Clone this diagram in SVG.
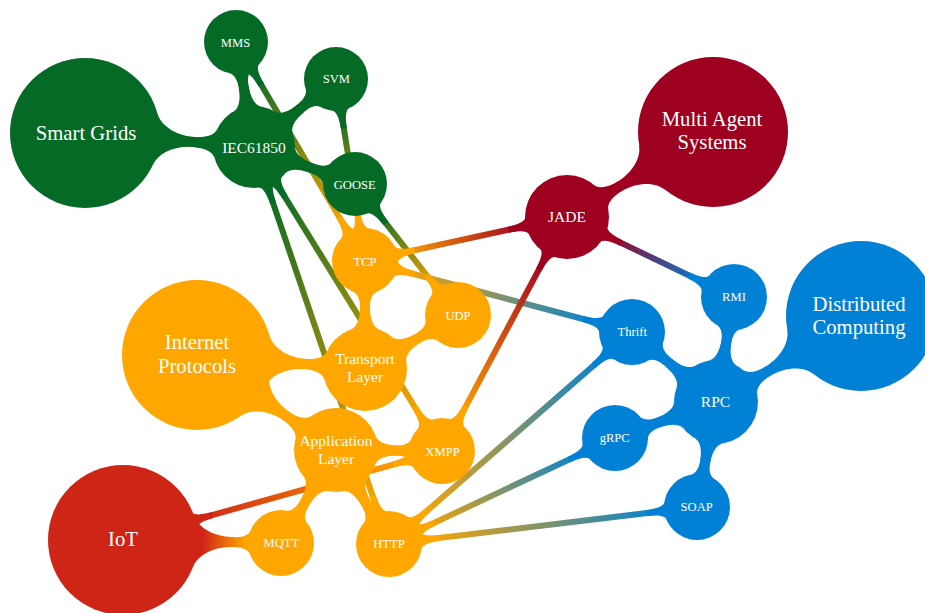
<svg xmlns="http://www.w3.org/2000/svg" xmlns:xlink="http://www.w3.org/1999/xlink" width="925" height="613" viewBox="0 0 925 613">
<style>
  text { font-family: "Liberation Serif", "Times New Roman", serif; fill: #ffffff; text-anchor: middle; }
  .big { font-size: 20.7px; }
  .mid { font-size: 15.5px; }
  .leaf { font-size: 12.6px; }
  .g { fill: #056a25; }
  .w { fill: #9e0020; }
  .b { fill: #0081d5; }
  .o { fill: #ffa600; }
  .r { fill: #cf2516; }
  .bar { fill: none; stroke-width: 10; }
  .bar.g { stroke: #056a25; }
  .bar.w { stroke: #9e0020; }
  .bar.b { stroke: #0081d5; }
  .bar.o { stroke: #ffa600; }
  .link { fill: none; stroke-width: 6; }
</style>
<defs>
  <!-- flared ends: origin sits on the circle rim, +x points away from the centre -->
  <path id="fb" d="M-4.6,-26 C-0.5,-14.7 14,-5 35,-5 L35,5 C14,5 -0.5,14.7 -4.6,26 Z"/>
  <path id="fm" d="M-2.4,-14 C-0.4,-8.3 8,-5 20,-5 L20,5 C8,5 -0.4,8.3 -2.4,14 Z"/>
  <path id="fs" d="M-2.1,-11.5 C-0.7,-7.8 5,-5 12,-5 L12,5 C5,5 -0.7,7.8 -2.1,11.5 Z"/>
  <path id="fx" d="M-1.8,-9.5 C-0.6,-5 6,-3 18,-3 L18,3 C6,3 -0.6,5 -1.8,9.5 Z"/>

  <!-- colour blends for the cross links -->
  <linearGradient id="l-mms-tcp" gradientUnits="userSpaceOnUse" x1="252.2" y1="69.6" x2="348.3" y2="232.6"><stop offset="0" stop-color="#056a25"/><stop offset="1" stop-color="#ffa600"/></linearGradient>
  <linearGradient id="l-svm-tcp" gradientUnits="userSpaceOnUse" x1="341" y1="110.6" x2="359.8" y2="228.4"><stop offset="0" stop-color="#056a25"/><stop offset="1" stop-color="#ffa600"/></linearGradient>
  <linearGradient id="l-goose-udp" gradientUnits="userSpaceOnUse" x1="374.8" y1="209.2" x2="437.6" y2="289.1"><stop offset="0" stop-color="#056a25"/><stop offset="1" stop-color="#ffa600"/></linearGradient>
  <linearGradient id="l-iec-xmpp" gradientUnits="userSpaceOnUse" x1="275" y1="181" x2="424.6" y2="422.9"><stop offset="0" stop-color="#056a25"/><stop offset="1" stop-color="#ffa600"/></linearGradient>
  <linearGradient id="l-iec-http" gradientUnits="userSpaceOnUse" x1="266.9" y1="184.9" x2="378.4" y2="512.8"><stop offset="0" stop-color="#056a25"/><stop offset="1" stop-color="#ffa600"/></linearGradient>
  <linearGradient id="l-tcp-jade" gradientUnits="userSpaceOnUse" x1="397.2" y1="254" x2="526" y2="225.9"><stop offset="0" stop-color="#ffa600"/><stop offset="1" stop-color="#9e0020"/></linearGradient>
  <linearGradient id="l-tcp-thrift" gradientUnits="userSpaceOnUse" x1="396.9" y1="269.5" x2="600.1" y2="323.5"><stop offset="0" stop-color="#ffa600"/><stop offset="1" stop-color="#0081d5"/></linearGradient>
  <linearGradient id="l-jade-xmpp" gradientUnits="userSpaceOnUse" x1="547.2" y1="254" x2="457.5" y2="421.9"><stop offset="0" stop-color="#9e0020"/><stop offset="1" stop-color="#ffa600"/></linearGradient>
  <linearGradient id="l-jade-rmi" gradientUnits="userSpaceOnUse" x1="604.9" y1="235.1" x2="704.2" y2="282.7"><stop offset="0" stop-color="#9e0020"/><stop offset="1" stop-color="#0081d5"/></linearGradient>
  <linearGradient id="l-http-thrift" gradientUnits="userSpaceOnUse" x1="413.9" y1="522.3" x2="607.1" y2="353.7"><stop offset="0" stop-color="#ffa600"/><stop offset="1" stop-color="#0081d5"/></linearGradient>
  <linearGradient id="l-http-grpc" gradientUnits="userSpaceOnUse" x1="418.9" y1="530" x2="585.1" y2="452"><stop offset="0" stop-color="#ffa600"/><stop offset="1" stop-color="#0081d5"/></linearGradient>
  <linearGradient id="l-http-soap" gradientUnits="userSpaceOnUse" x1="421.8" y1="540.1" x2="664.2" y2="510.9"><stop offset="0" stop-color="#ffa600"/><stop offset="1" stop-color="#0081d5"/></linearGradient>
  <linearGradient id="l-iot-xmpp" gradientUnits="userSpaceOnUse" x1="195.2" y1="519.8" x2="410.2" y2="459.9"><stop offset="0" stop-color="#cf2516"/><stop offset="1" stop-color="#ffa600"/></linearGradient>
  <!-- IoT to MQTT branch, in the branch's own rotated frame -->
  <linearGradient id="l-iot-mqtt" gradientUnits="userSpaceOnUse" x1="80" y1="0" x2="122" y2="0"><stop offset="0" stop-color="#cf2516"/><stop offset="1" stop-color="#ffa600"/></linearGradient>
</defs>

<g id="connectors">
  <g id="cross-links">
    <line class="link" stroke="url(#l-mms-tcp)" x1="252.2" y1="69.6" x2="348.3" y2="232.6"/>
    <line class="link" stroke="url(#l-svm-tcp)" x1="341" y1="110.6" x2="359.8" y2="228.4"/>
    <line class="link" stroke="url(#l-goose-udp)" x1="374.8" y1="209.2" x2="437.6" y2="289.1"/>
    <line class="link" stroke="url(#l-iec-xmpp)" x1="275" y1="181" x2="424.6" y2="422.9"/>
    <line class="link" stroke="url(#l-iec-http)" x1="266.9" y1="184.9" x2="378.4" y2="512.8"/>
    <line class="link" stroke="url(#l-tcp-jade)" x1="397.2" y1="254" x2="526" y2="225.9"/>
    <line class="link" stroke="url(#l-tcp-thrift)" x1="396.9" y1="269.5" x2="600.1" y2="323.5"/>
    <line class="link" stroke="url(#l-jade-xmpp)" x1="547.2" y1="254" x2="457.5" y2="421.9"/>
    <line class="link" stroke="url(#l-jade-rmi)" x1="604.9" y1="235.1" x2="704.2" y2="282.7"/>
    <line class="link" stroke="url(#l-http-thrift)" x1="413.9" y1="522.3" x2="607.1" y2="353.7"/>
    <line class="link" stroke="url(#l-http-grpc)" x1="418.9" y1="530" x2="585.1" y2="452"/>
    <line class="link" stroke="url(#l-http-soap)" x1="421.8" y1="540.1" x2="664.2" y2="510.9"/>
    <line class="link" stroke="url(#l-iot-xmpp)" x1="195.2" y1="519.8" x2="410.2" y2="459.9"/>

    <use href="#fx" class="g" transform="translate(236,42) rotate(59.5) translate(32,0)"/>
    <use href="#fx" class="o" transform="translate(365,261) rotate(239.5) translate(33,0)"/>
    <use href="#fx" class="g" transform="translate(336,79) rotate(80.95) translate(32,0)"/>
    <use href="#fx" class="o" transform="translate(365,261) rotate(260.95) translate(33,0)"/>
    <use href="#fx" class="g" transform="translate(355,184) rotate(51.82) translate(32,0)"/>
    <use href="#fx" class="o" transform="translate(458,315) rotate(231.82) translate(33,0)"/>
    <use href="#fx" class="g" transform="translate(254,147) rotate(58.27) translate(41,0)"/>
    <use href="#fx" class="o" transform="translate(442,451) rotate(238.27) translate(33,0)"/>
    <use href="#fx" class="g" transform="translate(254,147) rotate(71.22) translate(41,0)"/>
    <use href="#fx" class="o" transform="translate(389,544) rotate(251.22) translate(33,0)"/>
    <use href="#fx" class="o" transform="translate(365,261) rotate(-12.29) translate(33,0)"/>
    <use href="#fx" class="w" transform="translate(567,217) rotate(167.71) translate(42,0)"/>
    <use href="#fx" class="o" transform="translate(365,261) rotate(14.89) translate(33,0)"/>
    <use href="#fx" class="b" transform="translate(632,332) rotate(194.89) translate(33,0)"/>
    <use href="#fx" class="w" transform="translate(567,217) rotate(118.11) translate(42,0)"/>
    <use href="#fx" class="o" transform="translate(442,451) rotate(-61.89) translate(33,0)"/>
    <use href="#fx" class="w" transform="translate(567,217) rotate(25.6) translate(42,0)"/>
    <use href="#fx" class="b" transform="translate(734,297) rotate(205.6) translate(33,0)"/>
    <use href="#fx" class="o" transform="translate(389,544) rotate(-41.1) translate(33,0)"/>
    <use href="#fx" class="b" transform="translate(632,332) rotate(138.9) translate(33,0)"/>
    <use href="#fx" class="o" transform="translate(389,544) rotate(-25.13) translate(33,0)"/>
    <use href="#fx" class="b" transform="translate(615,438) rotate(154.87) translate(33,0)"/>
    <use href="#fx" class="o" transform="translate(389,544) rotate(-6.85) translate(33,0)"/>
    <use href="#fx" class="b" transform="translate(697,507) rotate(173.15) translate(33,0)"/>
    <use href="#fx" class="r" transform="translate(123,540) rotate(-15.59) translate(75,0)"/>
    <use href="#fx" class="o" transform="translate(442,451) rotate(164.41) translate(33,0)"/>
  </g>

  <g id="branches">
    <!-- Smart Grids -->
    <line class="bar g" x1="85" y1="133" x2="254" y2="147"/>
    <line class="bar g" x1="254" y1="147" x2="236" y2="42"/>
    <line class="bar g" x1="254" y1="147" x2="336" y2="79"/>
    <line class="bar g" x1="254" y1="147" x2="355" y2="184"/>
    <use href="#fb" class="g" transform="translate(85,133) rotate(4.74) translate(75,0)"/>
    <use href="#fm" class="g" transform="translate(254,147) rotate(184.74) translate(41,0)"/>
    <use href="#fm" class="g" transform="translate(254,147) rotate(-99.73) translate(41,0)"/>
    <use href="#fs" class="g" transform="translate(236,42) rotate(80.27) translate(32,0)"/>
    <use href="#fm" class="g" transform="translate(254,147) rotate(-39.67) translate(41,0)"/>
    <use href="#fs" class="g" transform="translate(336,79) rotate(140.33) translate(32,0)"/>
    <use href="#fm" class="g" transform="translate(254,147) rotate(20.12) translate(41,0)"/>
    <use href="#fs" class="g" transform="translate(355,184) rotate(200.12) translate(32,0)"/>

    <!-- Multi Agent Systems -->
    <line class="bar w" x1="713" y1="132" x2="567" y2="217"/>
    <use href="#fb" class="w" transform="translate(713,132) rotate(149.8) translate(75,0)"/>
    <use href="#fm" class="w" transform="translate(567,217) rotate(-30.2) translate(42,0)"/>

    <!-- Distributed Computing -->
    <line class="bar b" x1="861" y1="316" x2="716" y2="402"/>
    <line class="bar b" x1="716" y1="402" x2="734" y2="297"/>
    <line class="bar b" x1="716" y1="402" x2="632" y2="332"/>
    <line class="bar b" x1="716" y1="402" x2="615" y2="438"/>
    <line class="bar b" x1="716" y1="402" x2="697" y2="507"/>
    <use href="#fb" class="b" transform="translate(861,316) rotate(149.33) translate(75,0)"/>
    <use href="#fm" class="b" transform="translate(716,402) rotate(-30.67) translate(42,0)"/>
    <use href="#fm" class="b" transform="translate(716,402) rotate(-80.27) translate(42,0)"/>
    <use href="#fs" class="b" transform="translate(734,297) rotate(99.73) translate(33,0)"/>
    <use href="#fm" class="b" transform="translate(716,402) rotate(-140.19) translate(42,0)"/>
    <use href="#fs" class="b" transform="translate(632,332) rotate(39.81) translate(33,0)"/>
    <use href="#fm" class="b" transform="translate(716,402) rotate(160.38) translate(42,0)"/>
    <use href="#fs" class="b" transform="translate(615,438) rotate(-19.62) translate(33,0)"/>
    <use href="#fm" class="b" transform="translate(716,402) rotate(100.26) translate(42,0)"/>
    <use href="#fs" class="b" transform="translate(697,507) rotate(-79.74) translate(33,0)"/>

    <!-- Internet Protocols -->
    <line class="bar o" x1="197" y1="355" x2="365" y2="369"/>
    <line class="bar o" x1="197" y1="355" x2="336" y2="450"/>
    <line class="bar o" x1="365" y1="369" x2="365" y2="261"/>
    <line class="bar o" x1="365" y1="369" x2="458" y2="315"/>
    <line class="bar o" x1="336" y1="450" x2="442" y2="451"/>
    <line class="bar o" x1="336" y1="450" x2="389" y2="544"/>
    <line class="bar o" x1="336" y1="450" x2="281" y2="543"/>
    <use href="#fb" class="o" transform="translate(197,355) rotate(4.76) translate(75,0)"/>
    <use href="#fm" class="o" transform="translate(365,369) rotate(184.76) translate(42,0)"/>
    <use href="#fb" class="o" transform="translate(197,355) rotate(34.35) translate(75,0)"/>
    <use href="#fm" class="o" transform="translate(336,450) rotate(214.35) translate(42,0)"/>
    <use href="#fm" class="o" transform="translate(365,369) rotate(-90) translate(42,0)"/>
    <use href="#fs" class="o" transform="translate(365,261) rotate(90) translate(33,0)"/>
    <use href="#fm" class="o" transform="translate(365,369) rotate(-30.14) translate(42,0)"/>
    <use href="#fs" class="o" transform="translate(458,315) rotate(149.86) translate(33,0)"/>
    <use href="#fm" class="o" transform="translate(336,450) rotate(0.54) translate(42,0)"/>
    <use href="#fs" class="o" transform="translate(442,451) rotate(180.54) translate(33,0)"/>
    <use href="#fm" class="o" transform="translate(336,450) rotate(60.58) translate(42,0)"/>
    <use href="#fs" class="o" transform="translate(389,544) rotate(240.58) translate(33,0)"/>
    <use href="#fm" class="o" transform="translate(336,450) rotate(120.6) translate(42,0)"/>
    <use href="#fs" class="o" transform="translate(281,543) rotate(-59.4) translate(33,0)"/>

    <!-- IoT to MQTT -->
    <path fill="url(#l-iot-mqtt)" transform="translate(123,540) rotate(1.09)"
          d="M70.4,-26 C74.5,-14.7 89,-5 110,-5 L113,-5 C120,-5 125.7,-7.8 127.1,-11.5 L127.1,11.5 C125.7,7.8 120,5 113,5 L110,5 C89,5 74.5,14.7 70.4,26 Z"/>
  </g>
</g>

<g id="smart-grids"><circle class="g" cx="85" cy="133" r="75"/><text class="big" x="86" y="140">Smart Grids</text></g>
<g id="iec61850"><circle class="g" cx="254" cy="147" r="41"/><text class="mid" x="254" y="152.5">IEC61850</text></g>
<g id="mms"><circle class="g" cx="236" cy="42" r="32"/><text class="leaf" x="235.5" y="46.7">MMS</text></g>
<g id="svm"><circle class="g" cx="336" cy="79" r="32"/><text class="leaf" x="336.3" y="83">SVM</text></g>
<g id="goose"><circle class="g" cx="355" cy="184" r="32"/><text class="leaf" x="354.7" y="188.5">GOOSE</text></g>

<g id="multi-agent-systems"><circle class="w" cx="713" cy="132" r="75"/><text class="big"><tspan x="712" y="125.5">Multi Agent</tspan><tspan x="712" y="149">Systems</tspan></text></g>
<g id="jade"><circle class="w" cx="567" cy="217" r="42"/><text class="mid" x="567" y="222">JADE</text></g>

<g id="distributed-computing"><circle class="b" cx="861" cy="316" r="75"/><text class="big"><tspan x="859" y="310.5">Distributed</tspan><tspan x="859" y="334">Computing</tspan></text></g>
<g id="rmi"><circle class="b" cx="734" cy="297" r="33"/><text class="leaf" x="734" y="301">RMI</text></g>
<g id="rpc"><circle class="b" cx="716" cy="402" r="42"/><text class="mid" x="715.5" y="406.7">RPC</text></g>
<g id="thrift"><circle class="b" cx="632" cy="332" r="33"/><text class="leaf" x="632.3" y="336.2">Thrift</text></g>
<g id="grpc"><circle class="b" cx="615" cy="438" r="33"/><text class="leaf" x="614.7" y="441.5">gRPC</text></g>
<g id="soap"><circle class="b" cx="697" cy="507" r="33"/><text class="leaf" x="696.7" y="511.2">SOAP</text></g>

<g id="internet-protocols"><circle class="o" cx="197" cy="355" r="75"/><text class="big"><tspan x="197" y="349.3">Internet</tspan><tspan x="197" y="372.7">Protocols</tspan></text></g>
<g id="transport-layer"><circle class="o" cx="365" cy="369" r="42"/><text class="mid"><tspan x="365" y="363.5">Transport</tspan><tspan x="365" y="381.5">Layer</tspan></text></g>
<g id="application-layer"><circle class="o" cx="336" cy="450" r="42"/><text class="mid"><tspan x="336" y="446">Application</tspan><tspan x="336" y="463.5">Layer</tspan></text></g>
<g id="tcp"><circle class="o" cx="365" cy="261" r="33"/><text class="leaf" x="365" y="266">TCP</text></g>
<g id="udp"><circle class="o" cx="458" cy="315" r="33"/><text class="leaf" x="458" y="319.7">UDP</text></g>
<g id="xmpp"><circle class="o" cx="442" cy="451" r="33"/><text class="leaf" x="442.5" y="455.5">XMPP</text></g>
<g id="http"><circle class="o" cx="389" cy="544" r="33"/><text class="leaf" x="389" y="548">HTTP</text></g>
<g id="mqtt"><circle class="o" cx="281" cy="543" r="33"/><text class="leaf" x="281.3" y="546.5">MQTT</text></g>

<g id="iot"><circle class="r" cx="123" cy="540" r="75"/><text class="big" x="123" y="545.7">IoT</text></g>
</svg>
